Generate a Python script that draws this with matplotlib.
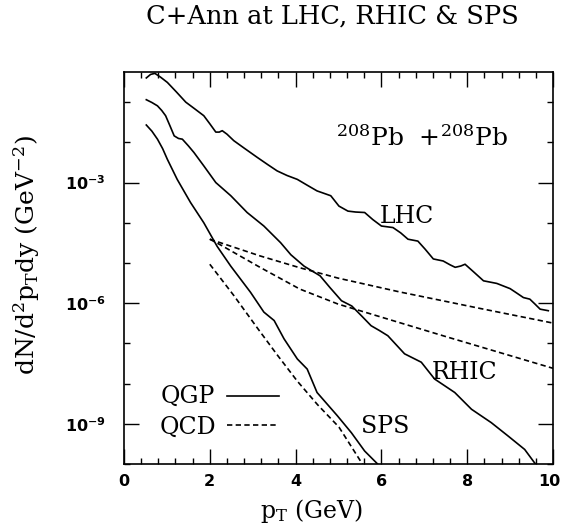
import matplotlib
matplotlib.use("Agg")
import matplotlib.pyplot as plt  # noqa: E402
import matplotlib.transforms as mtransforms  # noqa: E402
from matplotlib.ticker import MultipleLocator, FixedLocator, NullFormatter  # noqa: E402

# curves: p_T (GeV) and dN/d^2p_T dy (GeV^-2)
pt_lhc = [0.52, 0.62, 0.72, 0.85, 1.01, 1.22, 1.44, 1.65, 1.86, 2.00, 2.14, 2.22, 2.29, 2.40, 2.56, 2.80,
          3.11, 3.35, 3.57, 3.80, 4.04, 4.27, 4.50, 4.66, 4.82, 5.01, 5.22, 5.40, 5.61, 5.80, 6.00, 6.27,
          6.45, 6.62, 6.85, 7.02, 7.21, 7.44, 7.60, 7.72, 7.85, 7.95, 8.15, 8.38, 8.69, 9.00, 9.15, 9.31,
          9.46, 9.58, 9.70, 9.89]
dn_lhc = [4.0e-1, 4.9e-1, 5.2e-1, 4.2e-1, 3.1e-1, 1.8e-1, 1.0e-1, 6.8e-2, 4.6e-2, 2.9e-2, 1.8e-2, 1.8e-2,
          1.95e-2, 1.6e-2, 1.1e-2, 7.2e-3, 4.2e-3, 2.8e-3, 1.95e-3, 1.5e-3, 1.2e-3, 8.6e-4, 6.2e-4,
          5.4e-4, 4.7e-4, 2.6e-4, 1.95e-4, 1.85e-4, 1.8e-4, 1.2e-4, 8.3e-5, 7.6e-5, 5.6e-5, 3.9e-5,
          3.5e-5, 2.2e-5, 1.26e-5, 1.12e-5, 9.0e-6, 7.8e-6, 8.4e-6, 9.3e-6, 6.0e-6, 3.6e-6, 3.1e-6,
          2.3e-6, 1.8e-6, 1.38e-6, 1.26e-6, 9.5e-7, 7.1e-7, 6.5e-7]

pt_rhic = [0.52, 0.65, 0.78, 0.88, 0.97, 1.07, 1.17, 1.27, 1.36, 1.50, 1.63, 1.86, 2.14, 2.49, 2.87, 3.26,
           3.65, 3.89, 4.20, 4.57, 4.80, 5.07, 5.31, 5.54, 5.76, 5.95, 6.15, 6.54, 6.93, 7.24, 7.71, 8.10,
           8.56, 8.95, 9.34, 9.57, 9.63]
dn_rhic = [1.15e-1, 9.8e-2, 8.1e-2, 6.2e-2, 4.6e-2, 2.6e-2, 1.45e-2, 1.25e-2, 1.2e-2, 8.2e-3, 5.6e-3,
           2.6e-3, 1.0e-3, 4.7e-4, 1.8e-4, 8.3e-5, 3.2e-5, 1.6e-5, 8.3e-6, 4.8e-6, 2.45e-6, 1.15e-6,
           8.5e-7, 4.8e-7, 2.75e-7, 2.1e-7, 1.55e-7, 5.5e-8, 3.4e-8, 1.3e-8, 6.0e-9, 2.3e-9, 1.07e-9,
           5.0e-10, 2.3e-10, 1.07e-10, 9.3e-11]

pt_sps = [0.52, 0.65, 0.78, 0.90, 1.01, 1.24, 1.55, 1.86, 2.17, 2.49, 2.95, 3.26, 3.50, 3.73, 4.04, 4.27,
          4.50, 4.97, 5.30, 5.61, 5.92]
dn_sps = [2.7e-2, 1.9e-2, 1.2e-2, 7.0e-3, 3.8e-3, 1.2e-3, 3.2e-4, 1.0e-4, 2.6e-5, 8.3e-6, 1.86e-6, 6.0e-7,
          3.7e-7, 1.3e-7, 4.1e-8, 2.3e-8, 6.0e-9, 1.6e-9, 6.0e-10, 2.1e-10, 9.8e-11]

# pQCD (dashed)
pt_qcd_lhc = [2.00, 3.17, 4.10, 4.99, 6.43, 8.30, 10.0]
dn_qcd_lhc = [3.9e-5, 1.5e-5, 7.6e-6, 4.2e-6, 1.9e-6, 7.4e-7, 3.2e-7]

pt_qcd_rhic = [2.00, 2.28, 3.17, 4.10, 4.99, 7.48, 10.0]
dn_qcd_rhic = [3.9e-5, 2.7e-5, 7.8e-6, 2.24e-6, 9.5e-7, 1.5e-7, 2.4e-8]

pt_qcd_sps = [2.00, 2.56, 3.11, 3.57, 4.04, 4.51, 5.01, 5.57]
dn_qcd_sps = [9.3e-6, 1.55e-6, 2.4e-7, 5.2e-8, 1.15e-8, 3.0e-9, 8.3e-10, 9.5e-11]

x_ticks = [0, 2, 4, 6, 8, 10]
y_ticks = [1e-9, 1e-6, 1e-3]

SERIF = "DejaVu Serif"
plt.rcParams["mathtext.fontset"] = "dejavusans"

fig = plt.figure(figsize=(5.62, 5.29), dpi=100)
ax = fig.add_axes([124 / 562, 1 - 464 / 529, 429 / 562, 392 / 529])

kw = dict(color="black", lw=1.2, solid_joinstyle="round")
dash = (0, (3.2, 2.0))
ax.plot(pt_lhc, dn_lhc, **kw)
ax.plot(pt_rhic, dn_rhic, **kw)
ax.plot(pt_sps, dn_sps, **kw)
ax.plot(pt_qcd_lhc, dn_qcd_lhc, ls=dash, **kw)
ax.plot(pt_qcd_rhic, dn_qcd_rhic, ls=dash, **kw)
ax.plot(pt_qcd_sps, dn_qcd_sps, ls=dash, **kw)

ax.set_yscale("log")
ax.set_xlim(0, 10)
ax.set_ylim(1e-10, 10 ** -0.25)

ax.xaxis.set_major_locator(FixedLocator(x_ticks))
ax.xaxis.set_minor_locator(MultipleLocator(0.4))
ax.yaxis.set_major_locator(FixedLocator(y_ticks))
ax.yaxis.set_minor_locator(FixedLocator([10.0 ** k for k in range(-10, 1)]))
ax.yaxis.set_minor_formatter(NullFormatter())
ax.tick_params(which="both", direction="in", top=True, right=True, width=1.0)
ax.tick_params(which="major", length=11, labelsize=11.5)
ax.tick_params(which="minor", length=4.3)
ax.tick_params(axis="x", pad=7)
ax.tick_params(axis="y", pad=13)
for lab in ax.get_xticklabels() + ax.get_yticklabels():
    lab.set_fontweight("bold")
# keep the last x label ("10") inside the canvas
last = ax.get_xticklabels()[-1]
last.set_transform(last.get_transform() +
                   mtransforms.ScaledTranslation(-4 / 100, 0, fig.dpi_scale_trans))
for s in ax.spines.values():
    s.set_linewidth(1.2)

# in-plot labels
tk = dict(family=SERIF, fontsize=17, math_fontfamily="dejavuserif")
ax.text(6.95, 10 ** -2.08, r"$^{208}$Pb  $+^{208}$Pb", ha="center", va="baseline",
        family=SERIF, fontsize=18, math_fontfamily="dejavuserif")
ax.text(6.59, 1e-4, "LHC", ha="center", va="baseline", **tk)
ax.text(7.93, 10 ** -7.89, "RHIC", ha="center", va="baseline", **tk)
ax.text(6.08, 10 ** -9.22, "SPS", ha="center", va="baseline", **tk)

# hand-drawn key
ax.text(1.48, 10 ** -8.47, "QGP", ha="center", va="baseline", **tk)
ax.text(1.48, 10 ** -9.26, "QCD", ha="center", va="baseline", **tk)
ax.plot([2.41, 3.62], [10 ** -8.32] * 2, **kw)
ax.plot([2.41, 3.62], [10 ** -9.02] * 2, ls=dash, **kw)

fig.text(332 / 562, 1 - 24 / 529, "C+Ann at LHC, RHIC & SPS", ha="center", va="baseline",
         family=SERIF, fontsize=18.5)
fig.text(312 / 562, 1 - 518 / 529, r"p$_{\rm T}$ (GeV)", ha="center", va="baseline", **tk)
fig.text(27 / 562, 1 - 255 / 529, r"dN/d$^2$p$_{\rm T}$dy (GeV$^{-2}$)", rotation=90,
         ha="center", va="center", family=SERIF, fontsize=18, math_fontfamily="dejavuserif")

fig.savefig("out.png", dpi=100)
